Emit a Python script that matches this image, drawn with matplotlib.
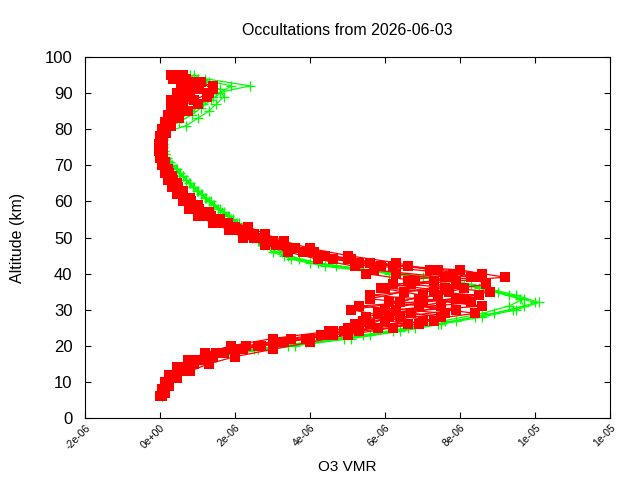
import matplotlib
matplotlib.use("Agg")
import matplotlib.pyplot as plt
from matplotlib.ticker import FuncFormatter, MultipleLocator

plt.rcParams["font.family"] = ["Liberation Sans", "DejaVu Sans"]

# altitude grids (km)
alt_even = [6, 8, 10, 12, 14, 16, 18, 20, 22, 24, 26, 28, 30, 32, 34, 36, 38, 40, 42, 44, 46, 48, 50,
            52, 54, 56, 58, 60, 62, 64, 66, 68, 70, 72, 74, 76, 78, 80, 82, 84, 86, 88, 90, 92, 94]
alt_odd = [7, 9, 11, 13, 15, 17, 19, 21, 23, 25, 27, 29, 31, 33, 35, 37, 39, 41, 43, 45, 47, 49, 51,
           53, 55, 57, 59, 61, 63, 65, 67, 69, 71, 73, 75, 77, 79, 81, 83, 85, 87, 89, 91, 93, 95]

# O3 VMR in units of 1e-6
green_1 = [0.04, 0.1, 0.2, 0.35, 0.65, 1.1, 2.0, 3.4, 4.9, 6.2, 7.4, 8.4, 9.4, 10.0, 9.3, 8.5, 7.6, 6.1,
           4.4, 3.5, 3.0, 2.75, 2.45, 2.3, 2.05, 1.8, 1.55, 1.3, 1.1, 0.88, 0.68, 0.5, 0.3, 0.16, 0.1,
           0.07, 0.09, 0.15, 0.3, 0.6, 0.9, 1.2, 1.5, 2.4, 1.2]
green_2 = [0.08, 0.15, 0.28, 0.5, 0.85, 1.5, 2.6, 4.1, 5.6, 6.8, 7.9, 8.9, 9.7, 9.6, 8.9, 8.1, 7.0, 5.4,
           4.0, 3.3, 2.95, 2.6, 2.3, 2.2, 1.9, 1.65, 1.4, 1.2, 0.98, 0.78, 0.6, 0.42, 0.24, 0.13,
           0.08, 0.08, 0.12, 0.7, 1.0, 1.3, 1.5, 1.7, 1.6, 1.1, 0.8]
green_3 = [0.05, 0.12, 0.22, 0.4, 0.7, 1.2, 2.1, 3.6, 5.1, 6.4, 7.5, 8.6, 9.5, 10.1, 9.5, 8.7, 7.8, 6.4,
           4.7, 3.7, 3.25, 2.85, 2.55, 2.4, 2.1, 1.85, 1.6, 1.35, 1.12, 0.9, 0.7, 0.52, 0.32, 0.18, 0.1,
           0.08, 0.1, 0.18, 0.5, 0.85, 1.1, 1.35, 1.6, 1.9, 1.0]
green_4 = [0.06, 0.14, 0.26, 0.48, 0.8, 1.4, 2.5, 3.9, 5.4, 6.6, 7.6, 8.6, 9.3, 9.7, 9.0, 8.3, 7.2, 5.6,
           4.2, 3.4, 3.05, 2.65, 2.35, 2.2, 1.95, 1.7, 1.45, 1.22, 1.0, 0.8, 0.62, 0.45, 0.26, 0.14, 0.08,
           0.07, 0.1, 0.25, 0.55, 0.85, 1.15, 1.4, 1.5, 1.3, 0.9]

red_1 = [0.02, 0.08, 0.18, 0.35, 0.62, 0.95, 1.5, 2.3, 3.5, 4.6, 5.2, 6.4, 7.9, 6.1, 7.4, 8.1, 6.6, 7.8,
         5.9, 4.6, 3.8, 3.1, 2.5, 2.1, 1.6, 1.25, 0.95, 0.75, 0.55, 0.42, 0.3, 0.2, 0.1, 0.05, 0.02,
         0.01, 0.04, 0.1, 0.2, 0.3, 0.45, 0.3, 0.75, 0.95, 0.6]
red_2 = [0.08, 0.17, 0.33, 0.6, 0.9, 1.4, 2.2, 3.3, 4.5, 5.1, 7.3, 5.8, 8.6, 6.9, 7.7, 6.2, 8.5, 7.4,
         5.6, 4.4, 3.6, 3.0, 2.5, 2.0, 1.55, 1.2, 0.95, 0.72, 0.55, 0.4, 0.28, 0.18, 0.1, 0.07, 0.05,
         0.06, 0.1, 0.2, 0.35, 0.5, 0.6, 0.8, 1.05, 0.6, 0.3]
red_3 = [0.06, 0.12, 0.22, 0.42, 0.75, 1.1, 1.7, 2.7, 4.0, 4.9, 6.6, 5.5, 6.3, 8.3, 5.6, 7.6, 7.9, 6.3,
         6.2, 5.0, 4.0, 3.3, 2.7, 2.3, 1.8, 1.35, 1.05, 0.82, 0.62, 0.47, 0.34, 0.23, 0.13, 0.08, 0.05,
         0.05, 0.07, 0.15, 0.3, 0.4, 0.55, 0.9, 1.3, 1.4, 0.7]
red_4 = [0.05, 0.14, 0.28, 0.5, 0.8, 1.25, 1.9, 3.0, 4.3, 5.8, 6.0, 7.6, 5.3, 7.9, 8.8, 6.7, 9.2, 8.0,
         5.2, 4.2, 3.4, 2.85, 2.35, 1.9, 1.45, 1.1, 0.85, 0.68, 0.5, 0.36, 0.26, 0.16, 0.08, 0.04, 0.02,
         0.04, 0.08, 0.16, 0.28, 0.38, 0.5, 0.65, 0.8, 0.95, 0.5]
red_5 = [0.04, 0.09, 0.2, 0.38, 0.68, 1.05, 1.65, 2.6, 3.9, 5.3, 6.9, 7.5, 6.0, 7.0, 8.5, 6.0, 7.3, 8.6,
         6.6, 5.1, 4.1, 3.3, 2.65, 2.25, 1.75, 1.35, 1.0, 0.8, 0.6, 0.45, 0.32, 0.21, 0.11, 0.06, 0.03,
         0.03, 0.05, 0.12, 0.22, 0.33, 0.45, 0.6, 0.7, 0.85, 0.45]
red_6 = [0.09, 0.16, 0.32, 0.58, 0.9, 1.35, 2.1, 3.2, 4.6, 5.0, 5.4, 6.7, 7.5, 5.6, 6.5, 7.9, 7.6, 5.7,
         5.3, 4.3, 3.5, 2.9, 2.45, 2.0, 1.5, 1.15, 0.9, 0.7, 0.52, 0.38, 0.27, 0.17, 0.09, 0.06, 0.04,
         0.05, 0.09, 0.2, 0.33, 0.45, 0.58, 0.75, 0.9, 0.65, 0.3]
red_7 = [0.0, 0.05, 0.12, 0.25, 0.45, 0.75, 1.2, 1.9, 3.0, 4.5, 5.6, 6.1, 5.1, 6.4, 7.0, 5.9, 6.8, 5.5,
         5.2, 4.2, 3.4, 2.8, 2.2, 1.85, 1.4, 1.0, 0.78, 0.6, 0.45, 0.32, 0.22, 0.13, 0.05, 0.0, -0.03,
         -0.03, 0.0, 0.05, 0.12, 0.2, 0.28, 0.35, 0.45, 0.55, 0.35]
red_8 = [0.12, 0.25, 0.45, 0.8, 1.3, 2.0, 3.0, 4.0, 5.0, 6.2, 7.0, 8.4, 6.9, 8.1, 7.3, 8.7, 8.3, 7.2,
         6.3, 5.0, 4.0, 3.3, 2.8, 2.35, 1.6, 1.3, 1.0, 0.8, 0.6, 0.45, 0.32, 0.22, 0.14, 0.09, 0.07,
         0.09, 0.15, 0.3, 0.5, 0.75, 1.0, 1.25, 1.4, 1.1, 0.6]

green_profiles = [(alt_even, green_1), (alt_odd, green_2), (alt_even, green_3), (alt_odd, green_4)]
red_profiles = [(alt_even, red_1), (alt_odd, red_2), (alt_even, red_3), (alt_odd, red_4),
                (alt_even, red_5), (alt_odd, red_6), (alt_even, red_7), (alt_odd, red_8)]

fig = plt.figure(figsize=(6.4, 4.8), dpi=100)
ax = fig.add_axes([85 / 640, 62 / 480, 525 / 640, 361 / 480])

for alt, vmr in green_profiles:
    ax.plot([v * 1e-6 for v in vmr], alt, color="#00ff00", lw=0.9, marker="+",
            markersize=7, markeredgewidth=0.9)
for alt, vmr in red_profiles:
    ax.plot([v * 1e-6 for v in vmr], alt, color="#ff0000", lw=0.9, marker="s",
            markersize=7, markeredgewidth=0)

ax.set_xlim(-2e-6, 1.2e-5)
ax.set_ylim(0, 100)
ax.xaxis.set_major_locator(MultipleLocator(2e-6))
ax.yaxis.set_major_locator(MultipleLocator(10))
ax.xaxis.set_major_formatter(FuncFormatter(lambda v, p: "%.0e" % v if abs(v) > 1e-12 else "0e+00"))
ax.tick_params(direction="in", top=True, right=True, length=4, width=0.8, color="black")
ax.tick_params(axis="y", labelsize=12, pad=9)
ax.tick_params(axis="x", labelsize=7.5)
for lab in ax.get_xticklabels():
    lab.set_rotation(45)
    lab.set_ha("right")
    lab.set_va("top")
    lab.set_rotation_mode("anchor")
for s in ax.spines.values():
    s.set_linewidth(0.8)

ax.set_title("Occultations from 2026-06-03", fontsize=11.5, pad=16)
ax.set_xlabel("O3 VMR", fontsize=11, labelpad=6)
ax.set_ylabel("Altitude (km)", fontsize=11.5, labelpad=14)

fig.savefig("out.png", dpi=100)
